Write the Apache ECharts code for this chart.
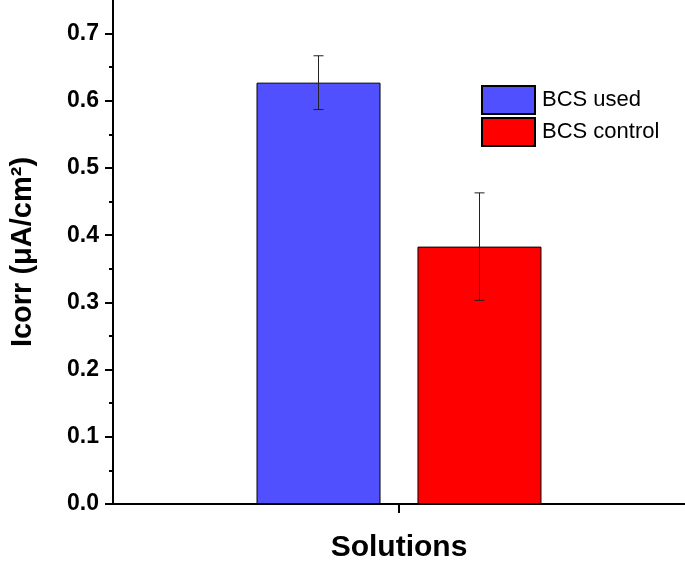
<!DOCTYPE html>
<html>
<head>
<meta charset="utf-8">
<script src="https://cdn.jsdelivr.net/npm/echarts@6/dist/echarts.min.js"></script>
<style>
html,body{margin:0;padding:0;background:#fff;}
#chart{width:685px;height:570px;}
</style>
</head>
<body>
<div id="chart"></div>
<script>
var categories = [''];
var seriesNames = ['BCS used', 'BCS control'];
var meanValues = [0.627, 0.383];
var errorValues = [0.04, 0.08];
var seriesColors = ['#5050FF', '#FF0000'];
var majorTicks = [0, 0.1, 0.2, 0.3, 0.4, 0.5, 0.6, 0.7];
var minorTicks = [0.05, 0.15, 0.25, 0.35, 0.45, 0.55, 0.65];

var FONT = "'Liberation Sans', Arial, sans-serif";
var BAR_W = 124, BAR_GAP_PX = 37;

var chart = echarts.init(document.getElementById('chart'));

var barSeries = seriesNames.map(function (n, i) {
  return {
    name: n, type: 'bar',
    data: [meanValues[i]],
    barWidth: BAR_W,
    barGap: (BAR_GAP_PX / BAR_W * 100).toFixed(1) + '%',
    itemStyle: { color: seriesColors[i], borderColor: '#000', borderWidth: 1 },
    z: 2
  };
});

var errData = meanValues.map(function (m, i) {
  return [0, m - errorValues[i], m + errorValues[i], i];
});

var errSeries = {
  type: 'custom',
  name: 'err',
  data: errData,
  z: 5,
  renderItem: function (params, api) {
    var idx = api.value(3);
    var lo = api.coord([api.value(0), api.value(1)]);
    var hi = api.coord([api.value(0), api.value(2)]);
    var off = (idx - (meanValues.length - 1) / 2) * (BAR_W + BAR_GAP_PX);
    var x = lo[0] + off;
    var cap = 5;
    var st = { stroke: '#222', lineWidth: 1 };
    return {
      type: 'group',
      children: [
        { type: 'line', shape: { x1: x, y1: lo[1], x2: x, y2: hi[1] }, style: st },
        { type: 'line', shape: { x1: x - cap, y1: lo[1], x2: x + cap, y2: lo[1] }, style: st },
        { type: 'line', shape: { x1: x - cap, y1: hi[1], x2: x + cap, y2: hi[1] }, style: st }
      ]
    };
  }
};

chart.setOption({
  animation: false,
  backgroundColor: '#fff',
  textStyle: { fontFamily: FONT },
  grid: { left: 113, right: 0, top: 0, bottom: 66, containLabel: false },
  legend: {
    data: seriesNames,
    orient: 'vertical',
    left: 481, top: 85,
    padding: 0,
    itemWidth: 53, itemHeight: 28, itemGap: 2,
    icon: 'rect',
    textStyle: { fontSize: 22, color: '#000', fontFamily: FONT, padding: [0, 0, 0, 2] }
  },
  xAxis: {
    type: 'category',
    data: categories,
    name: 'Solutions',
    nameLocation: 'middle',
    nameGap: 29,
    nameTextStyle: { fontSize: 30, fontWeight: 'bold', color: '#000', fontFamily: FONT },
    axisLine: { lineStyle: { color: '#000', width: 2 } },
    axisTick: { show: true, alignWithLabel: true, length: 9, lineStyle: { color: '#000', width: 2 } },
    axisLabel: { show: true, color: 'rgba(0,0,0,0)' },
    splitLine: { show: false }
  },
  yAxis: [{
    type: 'value',
    min: 0, max: 0.75,
    name: 'Icorr (μA/cm²)',
    nameLocation: 'middle',
    nameGap: 76,
    nameTextStyle: { fontSize: 29, fontWeight: 'bold', color: '#000', fontFamily: FONT },
    axisLine: { show: true, lineStyle: { color: '#000', width: 2 } },
    axisTick: { show: true, length: 8, customValues: majorTicks, lineStyle: { color: '#000', width: 2 } },
    axisLabel: {
      customValues: majorTicks,
      margin: 14,
      fontSize: 23, fontWeight: 'bold', color: '#000', fontFamily: FONT,
      formatter: function (v) { return v.toFixed(1); }
    },
    splitLine: { show: false }
  }, {
    type: 'value',
    min: 0, max: 0.75,
    position: 'left',
    axisLine: { show: false },
    axisTick: { show: true, length: 4, customValues: minorTicks, lineStyle: { color: '#000', width: 2 } },
    axisLabel: { show: false },
    splitLine: { show: false }
  }],
  series: barSeries.concat([errSeries])
});
</script>
</body>
</html>
